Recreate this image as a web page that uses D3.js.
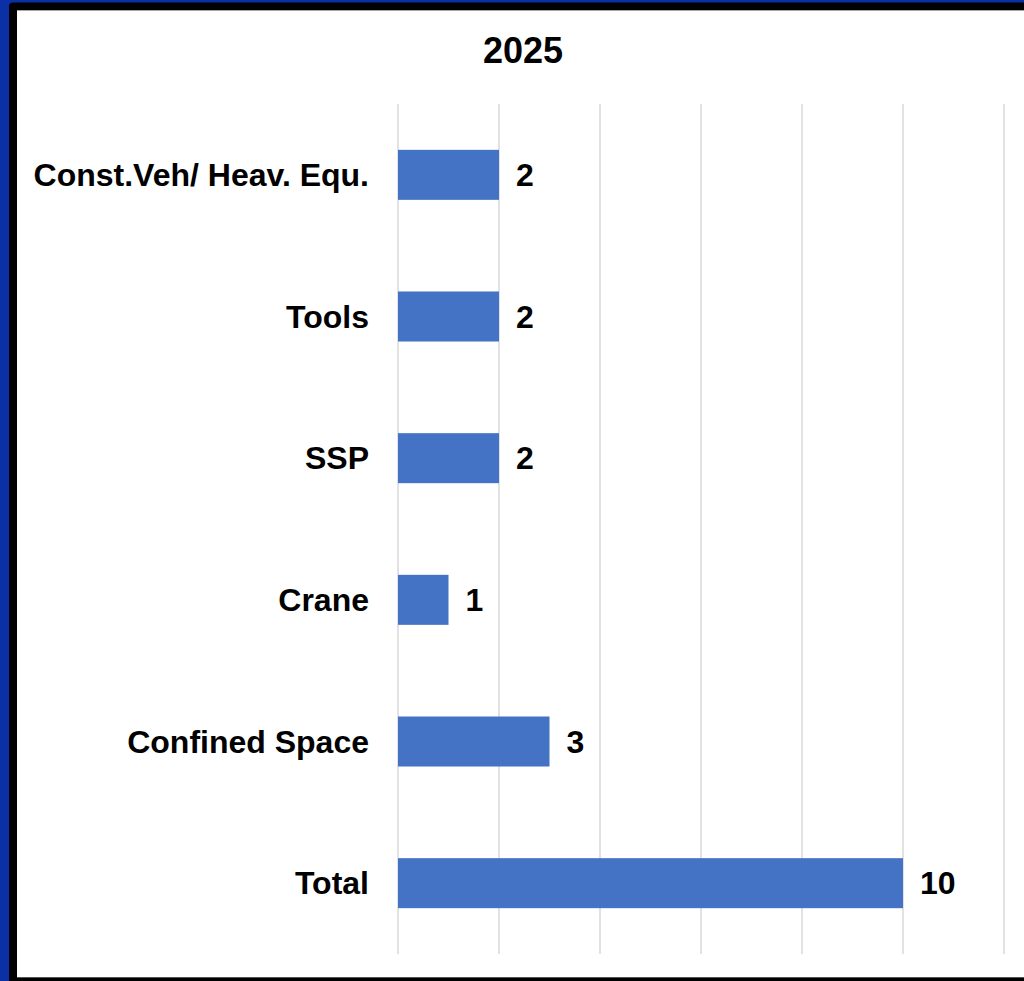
<!DOCTYPE html>
<html>
<head>
<meta charset="utf-8">
<script src="https://cdn.jsdelivr.net/npm/d3@7"></script>
<style>
  html, body { margin: 0; padding: 0; background: #fff; }
  svg { display: block; }
</style>
</head>
<body>
<svg id="chart" width="1024" height="981"></svg>
<script>
// Incident counts by category, 2025
const chartTitle = "2025";
const categories = ["Const.Veh/ Heav. Equ.", "Tools", "SSP", "Crane", "Confined Space", "Total"];
const counts = [2, 2, 2, 1, 3, 10];
const xTicks = [0, 2, 4, 6, 8, 10, 12];

const W = 1024, H = 981;
const FONT = "Liberation Sans, Arial, sans-serif";
const svg = d3.select("#chart");

// Frame: blue outer band, black inner border with a thin grey edge
svg.append("rect").attr("x", 0).attr("y", 0).attr("width", W).attr("height", H).attr("fill", "#0b2fa5");
svg.append("rect").attr("x", 9).attr("y", 2.5).attr("width", W).attr("height", H).attr("rx", 4).attr("fill", "#000");
svg.append("rect").attr("x", 17).attr("y", 10).attr("width", W).attr("height", 967.5).attr("fill", "#a6a6a6");
svg.append("rect").attr("x", 17).attr("y", 11).attr("width", W).attr("height", 966).attr("fill", "#fff");

const x = d3.scaleLinear().domain([0, 12]).range([398, 1004]);
const y = d3.scaleBand().domain(categories).range([104, 954]).paddingInner(0.647).paddingOuter(0.3235);

// Vertical gridlines
svg.append("g").selectAll("line").data(xTicks).join("line")
  .attr("x1", d => x(d)).attr("x2", d => x(d))
  .attr("y1", 104).attr("y2", 954)
  .attr("stroke", "#d9d9d9").attr("stroke-width", 1.5);

// Bars
svg.append("g").selectAll("rect").data(categories).join("rect")
  .attr("x", x(0))
  .attr("y", d => y(d))
  .attr("width", (d, i) => x(counts[i]) - x(0))
  .attr("height", y.bandwidth())
  .attr("fill", "#4472c4");

// Category labels
svg.append("g").selectAll("text").data(categories).join("text")
  .attr("x", 369)
  .attr("y", d => y(d) + y.bandwidth() / 2)
  .attr("dy", "0.35em")
  .attr("text-anchor", "end")
  .attr("font-family", FONT)
  .attr("font-weight", "bold")
  .attr("font-size", 32)
  .attr("fill", "#000")
  .text(d => d);

// Value labels
svg.append("g").selectAll("text").data(categories).join("text")
  .attr("x", (d, i) => x(counts[i]) + 17)
  .attr("y", d => y(d) + y.bandwidth() / 2)
  .attr("dy", "0.35em")
  .attr("font-family", FONT)
  .attr("font-weight", "bold")
  .attr("font-size", 32)
  .attr("fill", "#000")
  .text((d, i) => counts[i]);

// Title
svg.append("text")
  .attr("x", 523).attr("y", 63)
  .attr("text-anchor", "middle")
  .attr("font-family", FONT)
  .attr("font-weight", "bold")
  .attr("font-size", 36)
  .attr("fill", "#000")
  .text(chartTitle);
</script>
</body>
</html>
